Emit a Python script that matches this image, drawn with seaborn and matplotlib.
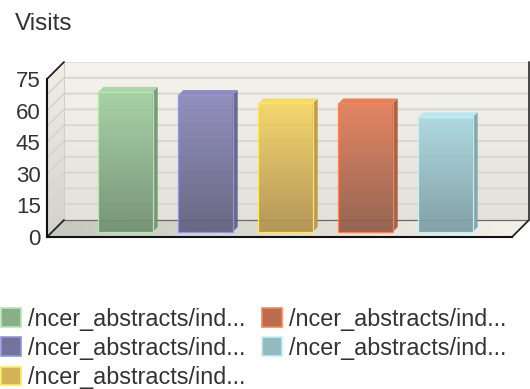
import numpy as np
import pandas as pd
import matplotlib
matplotlib.use('Agg')
import matplotlib.pyplot as plt
import seaborn as sns
from matplotlib.colors import to_rgb
from matplotlib.patches import Patch, Polygon

# values
pages = ['p1', 'p2', 'p3', 'p4', 'p5']
visits = [66.5, 65, 61, 61, 54.5]
labels = ['/ncer_abstracts/ind...'] * 5
y_ticks = [0, 15, 30, 45, 60, 75]
grid_levels = [7.5, 15, 22.5, 30, 37.5, 45, 52.5, 60, 67.5]

top_colors = ['#a3d0a1', '#8a88ba', '#f5d563', '#e37d58', '#aad8e0']
bottom_colors = ['#6f8e70', '#5e5e7c', '#b0904f', '#8f5a48', '#7a9ba2']
edge_colors = ['#b4e8b0', '#9494e4', '#ffe95a', '#ff8350', '#c2f0f4']
cap_colors = ['#a5d6a3', '#8886c0', '#f8dc5a', '#ea7a4c', '#b8e6ee']
side_colors = ['#6f9470', '#5f5f85', '#b8983f', '#a3583a', '#7fa3aa']

sns.set_theme(style='white')
plt.rcParams['font.family'] = ['Liberation Sans', 'DejaVu Sans']

W, H = 530, 389
fig = plt.figure(figsize=(W / 100, H / 100), dpi=100)

# axes run from the front-left corner to the back-right corner of the box
px_x = 80.0
px_y = 158 / 75
ax = fig.add_axes([47 / W, (H - 237) / H, (529 - 47) / W, 175 / H])
ax.set_facecolor('none')

df = pd.DataFrame({'page': pages, 'visits': visits})
sns.barplot(data=df, x='page', y='visits', hue='page', palette=top_colors,
            width=0.68, legend=False, ax=ax, zorder=3)

x0 = -78.5 / px_x
x1 = x0 + 465 / px_x
dx = 17 / px_x
dy = 17 / px_y
bar_dx = 5 / px_x
bar_dy = 5 / px_y
y_top = 75


def gradient(poly_pts, c_start, c_end, vertical=True, alpha=1.0, zorder=1):
    # fill a polygon with a linear gradient, by clipping an image to it
    pts = np.array(poly_pts)
    t = np.linspace(0, 1, 128)[:, None]
    rgb = np.array(to_rgb(c_start)) * (1 - t) + np.array(to_rgb(c_end)) * t
    img = np.hstack([rgb, np.full((128, 1), alpha)])[:, None, :]
    if not vertical:
        img = img.transpose(1, 0, 2)
    ext = (pts[:, 0].min(), pts[:, 0].max(), pts[:, 1].min(), pts[:, 1].max())
    im = ax.imshow(img, extent=ext, aspect='auto', origin='upper', zorder=zorder, interpolation='bilinear')
    clip = Polygon(pts, closed=True, transform=ax.transData, fc='none', ec='none')
    ax.add_patch(clip)
    im.set_clip_path(clip)


# back wall, left wall, floor
gradient([(x0 + dx, dy), (x1 + dx, dy), (x1 + dx, y_top + dy), (x0 + dx, y_top + dy)],
         '#f4f3ec', '#e2e2da')
gradient([(x0, 0), (x0 + dx, dy), (x0 + dx, y_top + dy), (x0, y_top)],
         '#f0f0e8', '#d2d2ca')
gradient([(x0, 0), (x1, 0), (x1 + dx, dy), (x0 + dx, dy)],
         '#c6c7be', '#f2f2ea', vertical=False)

for g in grid_levels:
    ax.plot([x0, x0 + dx, x1 + dx], [g, g + dy, g + dy], color='#d6d6cc', lw=1.3, zorder=1.5)
ax.plot([x0 + dx, x1 + dx], [y_top + dy] * 2, color='#dcdcd2', lw=1.2, zorder=1.5)

# box outline
line = dict(color='#222222', lw=1.3, zorder=5, clip_on=False, solid_capstyle='round')
ax.plot([x0, x0 + dx], [0, dy], **line)
ax.plot([x0, x0 + dx], [y_top, y_top + dy], **line)
ax.plot([x1, x1 + dx], [0, dy], **line)
ax.plot([x1 + dx, x1 + dx], [dy, y_top + dy], color='#444444', lw=1.4, zorder=5, clip_on=False)
ax.plot([x0 + dx, x0 + dx], [dy, y_top + dy], color='#cfcfc7', lw=0.8, zorder=1.6)
ax.plot([x0 + dx, x1 + dx], [dy, dy], color='#6a6a63', lw=0.9, zorder=1.6)

# bars sit a little way into the box, with a shallow side and cap
for i, p in enumerate(ax.patches[:len(pages)]):
    left, w, h = p.get_x(), p.get_width(), p.get_height()
    p.set_y(bar_dy)
    base, top = bar_dy, bar_dy + h
    right = left + w
    gradient([(left, base), (right, base), (right, top), (left, top)],
             top_colors[i], bottom_colors[i], alpha=0.92, zorder=2.5)
    p.set_facecolor('none')
    p.set_edgecolor(edge_colors[i])
    p.set_linewidth(0.9)
    ax.add_patch(Polygon([(right, base), (right + bar_dx, base + bar_dy),
                          (right + bar_dx, top + bar_dy), (right, top)],
                         closed=True, fc=side_colors[i], ec='none', alpha=0.92, zorder=2.6))
    ax.add_patch(Polygon([(left, top), (right, top),
                          (right + bar_dx, top + bar_dy), (left + bar_dx, top + bar_dy)],
                         closed=True, fc=cap_colors[i], ec='none', alpha=0.95, zorder=2.6))

ax.set_xlim(x0, x0 + 482 / px_x)
ax.set_ylim(0, 175 / px_y)
ax.set_xlabel('')
ax.set_ylabel('')
ax.set_xticks([])
ax.set_yticks(y_ticks)
ax.tick_params(axis='y', length=0, pad=4.5, labelsize=16, labelcolor='#333333')
sns.despine(ax=ax, top=True, right=True)
ax.spines['left'].set_bounds(0, y_top)
ax.spines['bottom'].set_bounds(x0, x1)
for s in ['left', 'bottom']:
    ax.spines[s].set_color('#111111')
    ax.spines[s].set_linewidth(1.5)
    ax.spines[s].set_zorder(6)

fig.text(15 / W, (H - 30) / H, 'Visits', fontsize=17.5, color='#333333')

mid_colors = [tuple((np.array(to_rgb(a)) + np.array(to_rgb(b))) / 2) for a, b in zip(top_colors, bottom_colors)]
handles = [Patch(facecolor=c, edgecolor=e, linewidth=1.2, label=t)
           for c, e, t in zip(mid_colors, edge_colors, labels)]
fig.legend(handles=handles, ncol=2, frameon=False, loc='lower left',
           bbox_to_anchor=(1 / W, 0 / H), borderaxespad=0, borderpad=0,
           fontsize=16.85, labelcolor='#333333', handlelength=0.85, handleheight=0.85,
           handletextpad=0.3, columnspacing=0.72, labelspacing=0.26)

fig.savefig('out.png', dpi=100)
